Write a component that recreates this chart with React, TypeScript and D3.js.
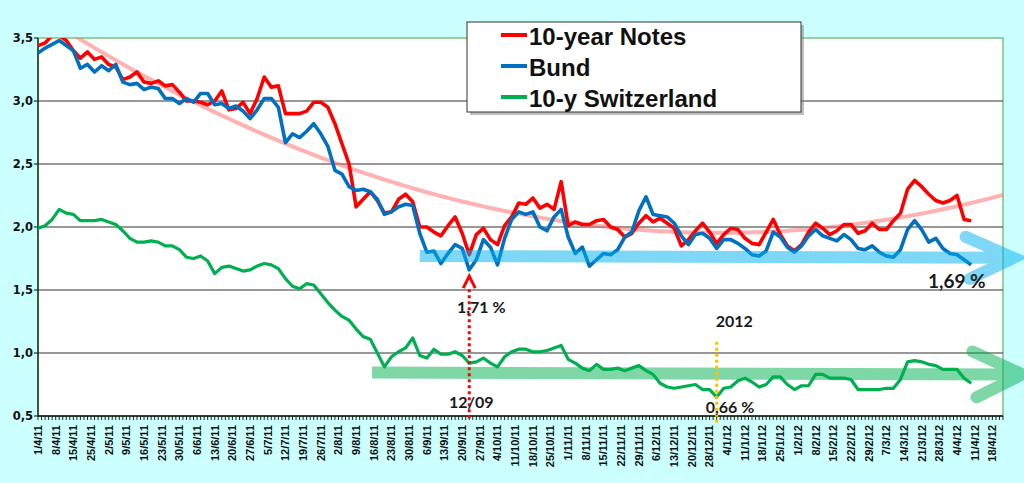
import React from "react";
import * as d3 from "d3";

// Bond yields (%) Apr 2011 - Apr 2012, category axis of trading days
const W = 1024;
const H = 483;
const PLOT = { left: 38, right: 1003, top: 38, bottom: 416 };

const SLOTS = 273; // trading days on the axis
const LABEL_EVERY = 5; // one label per week
const STEP = 2; // the series below are read every 2 trading days

const dateLabels = [
  "1/4/11", "8/4/11", "15/4/11", "25/4/11", "2/5/11", "9/5/11", "16/5/11", "23/5/11", "30/5/11",
  "6/6/11", "13/6/11", "20/6/11", "27/6/11", "5/7/11", "12/7/11", "19/7/11", "26/7/11", "2/8/11",
  "9/8/11", "16/8/11", "23/8/11", "30/8/11", "6/9/11", "13/9/11", "20/9/11", "27/9/11", "4/10/11",
  "11/10/11", "18/10/11", "25/10/11", "1/11/11", "8/11/11", "15/11/11", "22/11/11", "29/11/11",
  "6/12/11", "13/12/11", "20/12/11", "28/12/11", "4/1/12", "11/1/12", "18/1/12", "25/1/12",
  "1/2/12", "8/2/12", "15/2/12", "22/2/12", "29/2/12", "7/3/12", "14/3/12", "21/3/12", "28/3/12",
  "4/4/12", "11/4/12", "18/4/12",
];

const yTicks = [0.5, 1.0, 1.5, 2.0, 2.5, 3.0, 3.5];

const notes10y = [
  3.44, 3.46, 3.52, 3.52, 3.48, 3.40, 3.34, 3.39, 3.33, 3.35,
  3.29, 3.27, 3.17, 3.19, 3.23, 3.15, 3.14, 3.16, 3.12, 3.13,
  3.07, 3.00, 3.00, 2.99, 2.97, 3.00, 3.08, 2.93, 2.94, 2.99,
  2.90, 3.02, 3.19, 3.11, 3.12, 2.90, 2.90, 2.90, 2.92, 2.99,
  2.99, 2.95, 2.82, 2.66, 2.50, 2.16, 2.22, 2.28, 2.21, 2.11,
  2.12, 2.22, 2.26, 2.20, 2.00, 2.00, 1.96, 1.93, 2.01, 2.08,
  1.95, 1.78, 1.94, 1.99, 1.90, 1.86, 2.01, 2.08, 2.19, 2.18,
  2.23, 2.15, 2.18, 2.14, 2.36, 2.01, 2.04, 2.02, 2.02, 2.05,
  2.06, 2.00, 1.98, 1.92, 1.95, 2.03, 2.09, 2.04, 2.07, 2.03,
  1.99, 1.85, 1.90, 1.97, 2.03, 1.96, 1.87, 1.94, 1.99, 1.98,
  1.91, 1.87, 1.86, 1.96, 2.06, 1.94, 1.85, 1.81, 1.86, 1.96,
  2.03, 1.99, 1.94, 1.97, 2.02, 2.02, 1.95, 1.97, 2.03, 1.98,
  1.98, 2.05, 2.11, 2.30, 2.37, 2.32, 2.26, 2.21, 2.19, 2.21,
  2.25, 2.06, 2.05,
];

const bund = [
  3.38, 3.42, 3.45, 3.48, 3.44, 3.40, 3.26, 3.29, 3.23, 3.28,
  3.24, 3.29, 3.15, 3.13, 3.14, 3.09, 3.11, 3.10, 3.02, 3.02,
  2.98, 3.02, 2.99, 3.06, 3.06, 2.97, 2.98, 2.94, 2.96, 2.92,
  2.86, 2.93, 3.02, 3.02, 2.95, 2.67, 2.74, 2.71, 2.76, 2.82,
  2.74, 2.64, 2.45, 2.42, 2.32, 2.29, 2.30, 2.28, 2.22, 2.10,
  2.12, 2.16, 2.18, 2.17, 1.95, 1.80, 1.81, 1.71, 1.79, 1.86,
  1.83, 1.66, 1.74, 1.90, 1.84, 1.70, 1.91, 2.06, 2.12, 2.10,
  2.12, 2.00, 1.97, 2.08, 2.14, 1.92, 1.79, 1.84, 1.69, 1.74,
  1.79, 1.78, 1.82, 1.92, 1.96, 2.13, 2.24, 2.10, 2.09, 2.08,
  2.03, 1.93, 1.86, 1.94, 1.95, 1.91, 1.83, 1.90, 1.90, 1.87,
  1.83, 1.78, 1.77, 1.81, 1.96, 1.92, 1.84, 1.80, 1.85, 1.93,
  1.98, 1.93, 1.91, 1.89, 1.94, 1.90, 1.83, 1.82, 1.85, 1.80,
  1.77, 1.76, 1.82, 1.98, 2.05, 1.98, 1.88, 1.91, 1.83, 1.79,
  1.78, 1.74, 1.70,
];

const swiss10y = [
  1.99, 2.01, 2.06, 2.14, 2.11, 2.10, 2.05, 2.05, 2.05, 2.06,
  2.04, 2.02, 1.97, 1.91, 1.88, 1.88, 1.89, 1.88, 1.85, 1.85,
  1.82, 1.76, 1.75, 1.77, 1.73, 1.63, 1.68, 1.69, 1.67, 1.65,
  1.66, 1.69, 1.71, 1.70, 1.67, 1.59, 1.53, 1.51, 1.55, 1.54,
  1.47, 1.40, 1.34, 1.29, 1.26, 1.19, 1.13, 1.11, 1.00, 0.89,
  0.97, 1.01, 1.04, 1.12, 0.98, 0.96, 1.03, 0.99, 0.99, 1.01,
  0.98, 0.92, 0.93, 0.96, 0.92, 0.89, 0.97, 1.01, 1.03, 1.03,
  1.01, 1.01, 1.02, 1.04, 1.06, 0.95, 0.92, 0.88, 0.86, 0.91,
  0.87, 0.87, 0.88, 0.86, 0.88, 0.90, 0.86, 0.83, 0.76, 0.73,
  0.72, 0.73, 0.74, 0.75, 0.71, 0.71, 0.65, 0.72, 0.73, 0.78,
  0.80, 0.77, 0.73, 0.75, 0.81, 0.81, 0.75, 0.71, 0.74, 0.74,
  0.83, 0.83, 0.80, 0.80, 0.80, 0.79, 0.71, 0.71, 0.71, 0.71,
  0.72, 0.72, 0.79, 0.93, 0.94, 0.93, 0.91, 0.90, 0.87, 0.87,
  0.87, 0.80, 0.76,
];

const series = [
  { name: "10-year Notes", color: "#ff0000", values: notes10y, width: 3.6 },
  { name: "Bund", color: "#0070c0", values: bund, width: 3.6 },
  { name: "10-y Switzerland", color: "#00b050", values: swiss10y, width: 3.2 },
];

// hand drawn channels and markers, in axis units
const blueChannel = { from: 108, to: 276, start: 1.77, end: 1.755 };
const greenChannel = { from: 94.5, to: 278.5, start: 0.845, end: 0.83 };
const lowMark = { slot: 122, tip: 1.61, label: "1,71 %", date: "12/09" };
const yearMark = { slot: 192, top: 1.09, label: "2012", low: "0,66 %" };
const lastBund = "1,69 %";

// least squares polynomial, like the spreadsheet trendline
function polyfit(xs: number[], ys: number[], order: number) {
  const n = order + 1;
  const A = Array.from({ length: n }, () => new Array(n + 1).fill(0));
  xs.forEach((x, k) => {
    for (let i = 0; i < n; i++) {
      for (let j = 0; j < n; j++) A[i][j] += Math.pow(x, i + j);
      A[i][n] += Math.pow(x, i) * ys[k];
    }
  });
  for (let c = 0; c < n; c++) {
    let p = c;
    for (let r = c + 1; r < n; r++) if (Math.abs(A[r][c]) > Math.abs(A[p][c])) p = r;
    [A[c], A[p]] = [A[p], A[c]];
    for (let r = 0; r < n; r++) {
      if (r === c) continue;
      const f = A[r][c] / A[c][c];
      for (let k = c; k <= n; k++) A[r][k] -= f * A[c][k];
    }
  }
  return A.map((row, i) => row[n] / row[i]);
}

const AXIS_FONT = "'Liberation Sans', Arial, sans-serif";
const NOTE_FONT = "Lato, 'Open Sans', sans-serif";

export default function App() {
  const x = d3.scaleLinear().domain([0, SLOTS]).range([PLOT.left, PLOT.right]);
  const y = d3.scaleLinear().domain([0.5, 3.5]).range([PLOT.bottom, PLOT.top]);

  const line = d3
    .line<number>()
    .x((_, i) => x(i * STEP))
    .y((d) => y(d));

  const coef = polyfit(
    notes10y.map((_, i) => (i * STEP) / SLOTS),
    notes10y,
    2
  );
  const trend = d3.range(0, SLOTS + 1).map((s) => {
    const t = s / SLOTS;
    return [x(s), y(coef[0] + coef[1] * t + coef[2] * t * t)] as [number, number];
  });

  const channel = (
    c: { from: number; to: number; start: number; end: number },
    color: string,
    key: string,
    hx: number,
    hy: number
  ) => {
    const x0 = x(c.from);
    const x1 = x(c.to);
    const y0 = y(c.start);
    const y1 = y(c.end);
    return (
      <g key={key} opacity={0.5} stroke={color} fill="none" strokeWidth={12}>
        <path d={`M${x0},${y0}L${x1 - 6},${y1}`} />
        <path
          d={`M${x1 - hx},${y1 - hy}L${x1},${y1}L${x1 - hx + 4},${y1 + hy}`}
          strokeLinecap="round"
          strokeLinejoin="miter"
        />
      </g>
    );
  };

  const mx = x(lowMark.slot);
  const tipY = y(lowMark.tip);
  const yx = x(yearMark.slot);

  return (
    <div style={{ position: "absolute", left: 0, top: 0 }}>
      <svg width={W} height={H} style={{ display: "block" }}>
        <defs>
          <clipPath id="plot">
            <rect
              x={PLOT.left}
              y={PLOT.top}
              width={PLOT.right - PLOT.left}
              height={PLOT.bottom - PLOT.top}
            />
          </clipPath>
        </defs>
        <rect width={W} height={H} fill="#ccffff" />
        <rect
          x={PLOT.left}
          y={PLOT.top}
          width={PLOT.right - PLOT.left}
          height={PLOT.bottom - PLOT.top}
          fill="#ffffff"
          stroke="#5cb85c"
          strokeWidth={1.2}
        />

        {/* gridlines */}
        {yTicks.slice(1, -1).map((t) => (
          <line
            key={t}
            x1={PLOT.left}
            x2={PLOT.right}
            y1={y(t)}
            y2={y(t)}
            stroke="#333"
            strokeWidth={1.2}
          />
        ))}

        {/* y axis */}
        <line x1={PLOT.left} x2={PLOT.left} y1={PLOT.top} y2={PLOT.bottom} stroke="#1a331a" strokeWidth={1.5} />
        {yTicks.map((t) => (
          <g key={t}>
            <line x1={PLOT.left - 4} x2={PLOT.left} y1={y(t)} y2={y(t)} stroke="#1a331a" strokeWidth={1.2} />
            <text
              x={PLOT.left - 5}
              y={y(t)}
              dy="0.35em"
              textAnchor="end"
              fontFamily="'DejaVu Sans', Verdana, sans-serif"
              fontWeight="bold"
              fontSize={11.5}
              fill="#111"
            >
              {d3.format(".1f")(t).replace(".", ",")}
            </text>
          </g>
        ))}

        {/* x axis */}
        <line x1={PLOT.left} x2={PLOT.right} y1={PLOT.bottom} y2={PLOT.bottom} stroke="#111" strokeWidth={1.5} />
        {d3.range(0, SLOTS + 1).map((s) => (
          <line key={s} x1={x(s)} x2={x(s)} y1={PLOT.bottom} y2={PLOT.bottom + 4} stroke="#111" strokeWidth={0.9} />
        ))}
        {dateLabels.map((lab, i) => (
          <text
            key={lab}
            transform={`translate(${x(i * LABEL_EVERY)},${PLOT.bottom + 9}) rotate(-90)`}
            dy="0.35em"
            textAnchor="end"
            fontFamily={AXIS_FONT}
            fontWeight="bold"
            fontSize={11}
            fill="#111"
          >
            {lab}
          </text>
        ))}

        {/* trend + series */}
        <g clipPath="url(#plot)">
          <path
            d={d3.line()(trend) ?? ""}
            fill="none"
            stroke="#ff6666"
            strokeOpacity={0.5}
            strokeWidth={4}
          />
          {series.map((s) => (
            <path
              key={s.name}
              d={line(s.values) ?? ""}
              fill="none"
              stroke={s.color}
              strokeWidth={s.width}
              strokeLinejoin="round"
            />
          ))}
        </g>

        {/* channels */}
        {channel(blueChannel, "#00b0f0", "blue", 48, 21)}
        {channel(greenChannel, "#00b050", "green", 50, 23)}

        {/* low of september */}
        <line
          x1={mx}
          x2={mx}
          y1={tipY + 13}
          y2={PLOT.bottom + 4}
          stroke="#ff0000"
          strokeWidth={3}
          strokeDasharray="3 3"
        />
        <path
          d={`M${mx - 6},${tipY + 12}L${mx},${tipY}L${mx + 6},${tipY + 12}`}
          fill="none"
          stroke="#ff0000"
          strokeWidth={3}
        />
        <text x={mx + 12} y={313} textAnchor="middle" fontFamily={NOTE_FONT} fontWeight="bold" fontSize={16} fill="#1a1a1a">
          {lowMark.label}
        </text>
        <text x={mx + 2} y={408} textAnchor="middle" fontFamily={NOTE_FONT} fontWeight="bold" fontSize={16} fill="#1a1a1a">
          {lowMark.date}
        </text>

        {/* start of 2012 */}
        <line
          x1={yx}
          x2={yx}
          y1={y(yearMark.top)}
          y2={PLOT.bottom + 8}
          stroke="#ffc000"
          strokeWidth={3}
          strokeDasharray="3 3"
        />
        <text x={yx - 1} y={327} fontFamily={NOTE_FONT} fontWeight="bold" fontSize={16} fill="#1a1a1a">
          {yearMark.label}
        </text>
        <text x={yx - 11} y={413} fontFamily={NOTE_FONT} fontWeight="bold" fontSize={16} fill="#1a1a1a">
          {yearMark.low}
        </text>
        <text x={928} y={288} fontFamily={NOTE_FONT} fontWeight="bold" fontSize={19} fill="#1a1a1a">
          {lastBund}
        </text>

        {/* legend */}
        <g>
          <rect x={470} y={25} width={334} height={90} fill="#808080" opacity={0.5} />
          <rect x={467} y={22} width={334} height={90} fill="#fff" stroke="#333" strokeWidth={1} />
          {series.map((s, i) => (
            <g key={s.name} transform={`translate(501,${35 + i * 31})`}>
              <line x1={0} x2={26} stroke={s.color} strokeWidth={4} />
              <text x={28} y={10} fontFamily={AXIS_FONT} fontWeight="bold" fontSize={24} fill="#111">
                {s.name}
              </text>
            </g>
          ))}
        </g>
      </svg>
    </div>
  );
}
